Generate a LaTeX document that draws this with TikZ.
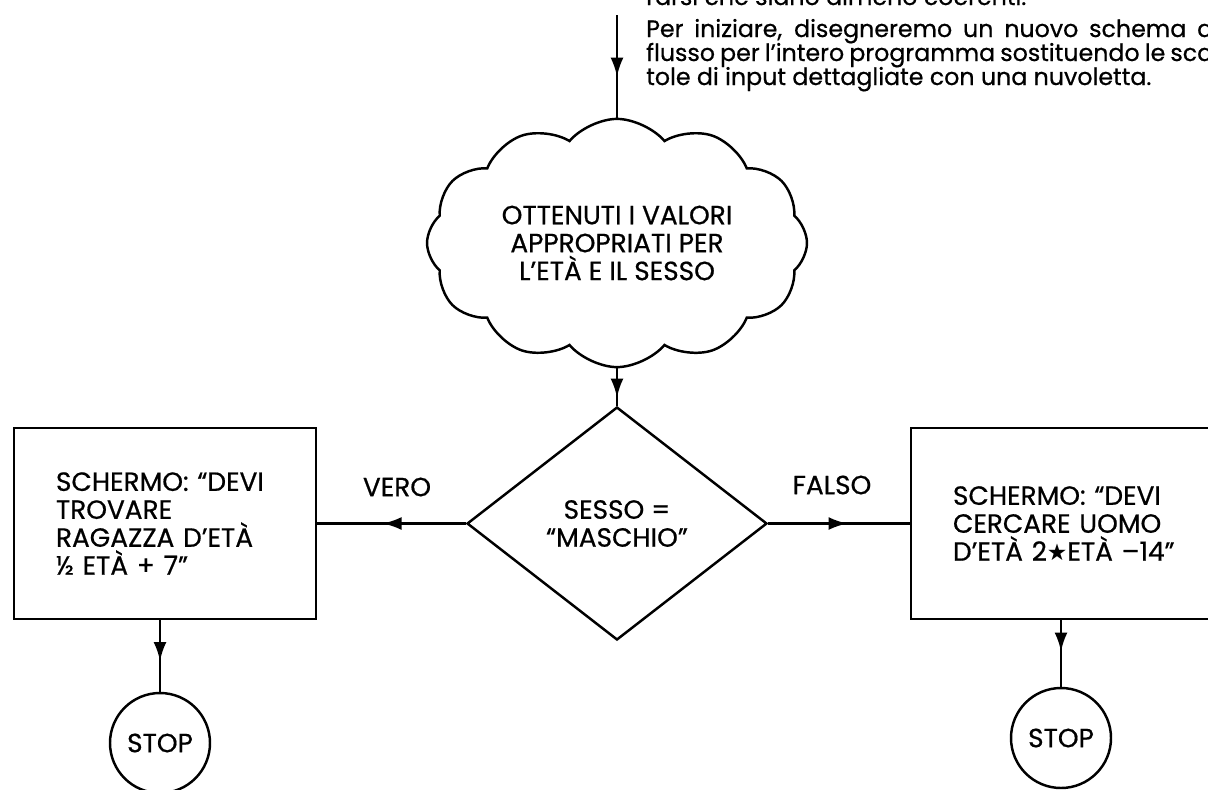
\documentclass[tikz,border=0pt]{standalone}
\usepackage{fontspec}
\setmainfont{Poppins}[FakeBold=0.6]
\newfontfamily\symfont{DejaVu Sans}
\usetikzlibrary{shapes.geometric, shapes.symbols, arrows.meta, positioning, calc, decorations.markings}

\begin{document}
\begin{tikzpicture}[
        line width=1.4pt,
        flowfont/.style={font=\fontsize{15}{15.9}\selectfont},
        flowbox/.style={rectangle, draw, flowfont, minimum width=6.04cm, minimum height=3.82cm, text width=4.36cm, inner xsep=0.84cm, align=left},
        decision/.style={diamond, draw, flowfont, minimum width=6cm, minimum height=4.66cm, inner sep=0pt, align=center},
        puffcloud/.style={cloud, draw, flowfont, cloud puffs=12, cloud puff arc=100, aspect=1.6, minimum width=7.6cm, minimum height=4.74cm, align=center},
        stopnode/.style={circle, draw, flowfont, minimum size=2cm, inner sep=0pt},
        branch/.style={flowfont, inner sep=0pt},
        prose/.style={font=\fontsize{13.5}{13.6}\selectfont, anchor=base west, inner sep=0pt},
        midarrow/.style={postaction={decorate}, decoration={markings, mark=at position #1 with {\arrow{Latex[length=0.38cm, width=0.26cm]}}}}
    ]
        \useasboundingbox (0,0) rectangle (24.16,-15.78);
        \clip (0,0) rectangle (24.16,-15.78);

        % Text above
        \node[prose] (txt0) at (12.9,-0.10) {rarsi che siano almeno coerenti.};
        \node[prose] (txt1) at (12.9,-0.74) {\makebox[11.34cm][s]{Per iniziare, disegneremo un nuovo schema d}};
        \node[prose] (txt2) at (12.9,-1.22) {\makebox[11.34cm][s]{flusso per l’intero programma sostituendo le sca}};
        \node[prose] (txt3) at (12.9,-1.70) {tole di input dettagliate con una nuvoletta.};

        % Flowchart
        \coordinate (feed) at (12.34,-0.30);
        \node[puffcloud] (input) at (12.34,-4.86) {OTTENUTI I VALORI\\APPROPRIATI PER\\L’ETÀ E IL SESSO};
        \node[decision] (test) at (12.34,-10.47) {SESSO =\\“MASCHIO”};
        \node[flowbox] (girl) at (3.30,-10.47) {SCHERMO: “DEVI\\TROVARE\\RAGAZZA D’ETÀ\\½ ETÀ + 7”};
        \node[flowbox] (man) at (21.24,-10.47) {SCHERMO: “DEVI\\CERCARE UOMO\\\mbox{D’ETÀ 2{\symfont\fontsize{13}{13}\selectfont ★}ETÀ –14”}};
        \node[stopnode] (stopgirl) at (3.20,-14.86) {STOP};
        \node[stopnode] (stopman) at (21.22,-14.76) {STOP};

        % Branch labels
        \node[branch] (vero) at (7.94,-9.74) {VERO};
        \node[branch] (falso) at (16.64,-9.70) {FALSO};

        % Arrows
        \draw[midarrow=0.6] (feed) -- (input.north);
        \draw[midarrow=0.78] (input.south) -- (test.north);
        \draw[midarrow=0.56] (test.west) -- (girl.east);
        \draw[midarrow=0.56] (test.east) -- (man.west);
        \draw[midarrow=0.57] (girl.south -| stopgirl) -- (stopgirl.north);
        \draw[midarrow=0.47] (man.south -| stopman) -- (stopman.north);
    \end{tikzpicture}
\end{document}
